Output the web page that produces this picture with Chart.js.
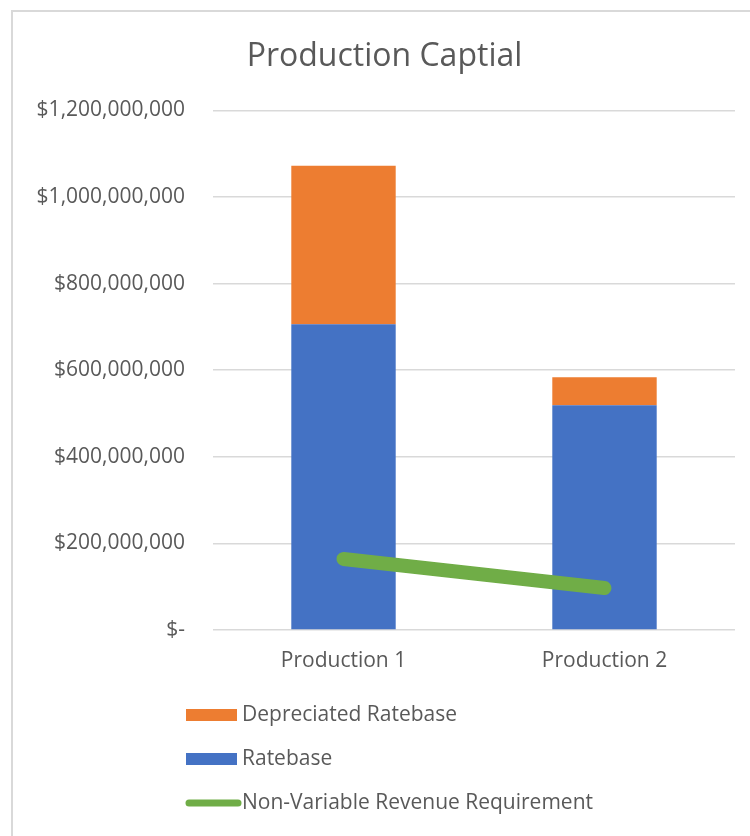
<!DOCTYPE html>
<html lang="en">
<head>
    <meta charset="UTF-8">
    <title>Production Captial</title>
    <script src="https://cdn.jsdelivr.net/npm/chart.js"></script>
    <style>
        body, html {
            margin: 0;
            padding: 0;
            width: 750px;
            height: 836px;
            overflow: hidden;
            background: #fff;
            font-family: "Open Sans", sans-serif;
        }
        #wrap { position: relative; width: 750px; height: 836px; }
    </style>
</head>
<body>
<div id="wrap"><canvas id="prodChart"></canvas></div>
<script>
    const categories = ["Production 1", "Production 2"];
    const ratebase = [706000000, 519000000];
    const depreciatedRatebase = [366000000, 65000000];
    const nonVariableRevReq = [164000000, 97000000];
    const yTicks = [0, 200000000, 400000000, 600000000, 800000000, 1000000000, 1200000000];

    const grey = '#595959';
    Chart.defaults.font.family = '"Open Sans", sans-serif';
    Chart.defaults.color = grey;

    const fmt = (v) => v === 0 ? '$-' : '$' + v.toLocaleString('en-US');

    // frame + legend in a vertical list below the plot
    const extras = {
        id: 'extras',
        beforeDraw(chart) {
            const c = chart.ctx;
            c.save();
            c.strokeStyle = '#d9d9d9';
            c.lineWidth = 2;
            c.beginPath();
            c.moveTo(12, 836);
            c.lineTo(12, 11);
            c.lineTo(750, 11);
            c.stroke();
            c.restore();
        },
        afterDraw(chart) {
            const c = chart.ctx;
            const ds = chart.data.datasets;
            const order = [1, 0, 2];
            const x0 = chart.chartArea.left - 27;
            const y0 = chart.chartArea.bottom + 85;
            c.save();
            c.font = '21px "Open Sans", sans-serif';
            c.textBaseline = 'middle';
            order.forEach((idx, i) => {
                const d = ds[idx];
                const y = y0 + i * 44;
                if (d.type === 'line') {
                    c.strokeStyle = d.borderColor;
                    c.lineWidth = 7;
                    c.lineCap = 'round';
                    c.beginPath();
                    c.moveTo(x0 + 3, y);
                    c.lineTo(x0 + 52, y);
                    c.stroke();
                } else {
                    c.fillStyle = d.backgroundColor;
                    c.fillRect(x0, y - 6, 51, 12);
                }
                c.fillStyle = grey;
                c.fillText(d.label, x0 + 56, y);
            });
            c.restore();
        }
    };

    new Chart(document.getElementById('prodChart'), {
        data: {
            labels: categories,
            datasets: [
                { type: 'bar', label: 'Ratebase', data: ratebase, backgroundColor: '#4472C4', order: 1 },
                { type: 'bar', label: 'Depreciated Ratebase', data: depreciatedRatebase, backgroundColor: '#ED7D31', order: 1 },
                { type: 'line', label: 'Non-Variable Revenue Requirement', data: nonVariableRevReq,
                  borderColor: '#70AD47', backgroundColor: '#70AD47', borderWidth: 14,
                  borderCapStyle: 'round', pointRadius: 0, order: 0 }
            ]
        },
        options: {
            responsive: true,
            maintainAspectRatio: false,
            animation: false,
            layout: { padding: { left: 34, right: 15, top: 0, bottom: 156 } },
            datasets: { bar: { categoryPercentage: 1, barPercentage: 0.4 } },
            plugins: {
                legend: { display: false },
                tooltip: { enabled: false },
                title: {
                    display: true,
                    text: 'Production Captial',
                    color: grey,
                    font: { size: 32, weight: 'normal' },
                    padding: { top: 38, bottom: 34 }
                }
            },
            scales: {
                x: {
                    stacked: true,
                    grid: { display: false, drawTicks: false },
                    border: { display: false },
                    ticks: { padding: 18, font: { size: 21 }, color: grey },
                    afterFit: (s) => { s.height = 50; }
                },
                y: {
                    stacked: true,
                    min: 0,
                    max: 1200000000,
                    afterBuildTicks: (s) => { s.ticks = yTicks.map(v => ({ value: v })); },
                    grid: { color: '#d9d9d9', drawTicks: false, lineWidth: 1.5 },
                    border: { display: false },
                    ticks: { padding: 28, font: { size: 21 }, color: grey, callback: fmt },
                    afterFit: (s) => { s.width = 179; }
                }
            }
        },
        plugins: [extras]
    });
</script>
</body>
</html>
